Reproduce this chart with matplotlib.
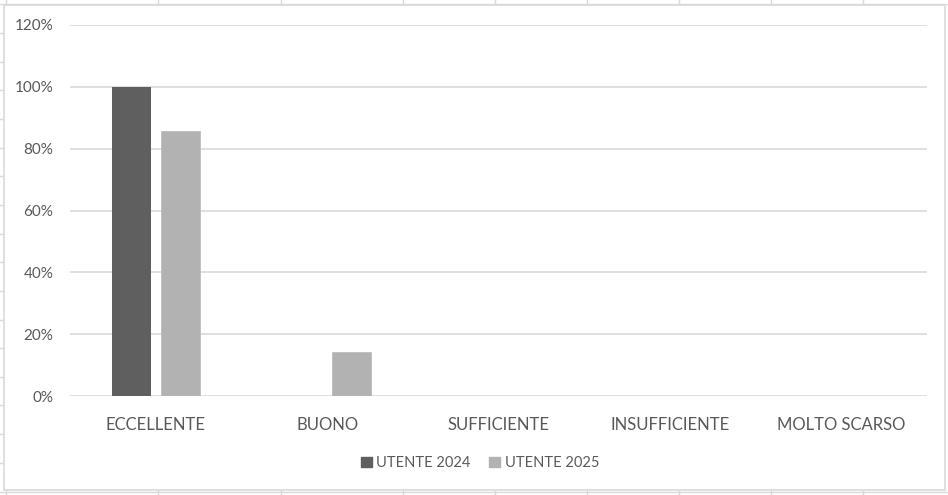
import matplotlib
matplotlib.use("Agg")
import matplotlib.pyplot as plt
import numpy as np
from matplotlib.lines import Line2D
from matplotlib.patches import Rectangle, Patch

categories = ["ECCELLENTE", "BUONO", "SUFFICIENTE", "INSUFFICIENTE", "MOLTO SCARSO"]
utente_2024 = [1.00, 0.0, 0.0, 0.0, 0.0]
utente_2025 = [0.857, 0.143, 0.0, 0.0, 0.0]
series_names = ["UTENTE 2024", "UTENTE 2025"]
yticks = [0, 0.2, 0.4, 0.6, 0.8, 1.0, 1.2]
ytick_labels = ["0%", "20%", "40%", "60%", "80%", "100%", "120%"]

W, H = 948, 495
plt.rcParams['font.family'] = ['Lato', 'DejaVu Sans']
fig = plt.figure(figsize=(W / 100, H / 100), dpi=100)
fig.patch.set_facecolor('white')

# spreadsheet background grid
grid_col = '#dadada'
for xv in [6, 158, 281, 403, 495, 587, 679, 771, 863]:
    fig.add_artist(Line2D([xv / W, xv / W], [1, 1 - 4 / H], color=grid_col, lw=1, zorder=-2))
    fig.add_artist(Line2D([xv / W, xv / W], [1 - 490 / H, 0], color=grid_col, lw=1, zorder=-2))
fig.add_artist(Line2D([0, 1], [1 - 3.5 / H] * 2, color=grid_col, lw=1, zorder=-2))
fig.add_artist(Line2D([0, 1], [1 - 492 / H] * 2, color=grid_col, lw=1, zorder=-2))
for yv in np.arange(33, 490, 28.65):
    fig.add_artist(Line2D([0, 4 / W], [1 - yv / H] * 2, color=grid_col, lw=1, zorder=-2))

# chart border
fig.add_artist(Rectangle((4 / W, 1 - 490 / H), (945 - 4) / W, (490 - 5) / H,
                         facecolor='white', edgecolor='#d9d9d9', lw=1.2, zorder=-1))

ax = fig.add_axes([70 / W, 1 - 396 / H, (927 - 70) / W, (396 - 25) / H])
ax.set_zorder(2)
ax.set_facecolor('none')
x = np.arange(len(categories))
w = 0.2275
off = 0.143
c1, c2 = '#5f5f5f', '#b2b2b2'
ax.bar(x - off, utente_2024, w, color=c1, zorder=3, label=series_names[0])
ax.bar(x + off, utente_2025, w, color=c2, edgecolor='#bdbdbd', linewidth=0.6,
       zorder=3, label=series_names[1])

ax.set_xlim(-0.5, len(categories) - 0.5)
ax.set_ylim(0, 1.2)
ax.set_yticks(yticks)
ax.set_yticklabels(ytick_labels)
ax.set_xticks(x)
ax.set_xticklabels(categories)
for s in ax.spines.values():
    s.set_visible(False)
ax.grid(axis='y', color='#d9d9d9', lw=1.2, zorder=0)
ax.set_axisbelow(True)
ax.tick_params(axis='both', length=0, colors='#595959')
ax.tick_params(axis='y', labelsize=11, pad=12)
ax.tick_params(axis='x', labelsize=12, pad=15)

handles = [Patch(color=c1), Patch(color=c2)]
leg = fig.legend(handles, series_names, loc='center', bbox_to_anchor=(480 / W, 1 - 463 / H),
                 ncol=2, frameon=False, fontsize=10.5, labelcolor='#595959',
                 handlelength=0.75, handleheight=0.75, handletextpad=0.3, columnspacing=1.3)
leg.set_zorder(3)

fig.savefig('out.png', dpi=100, facecolor='white')
